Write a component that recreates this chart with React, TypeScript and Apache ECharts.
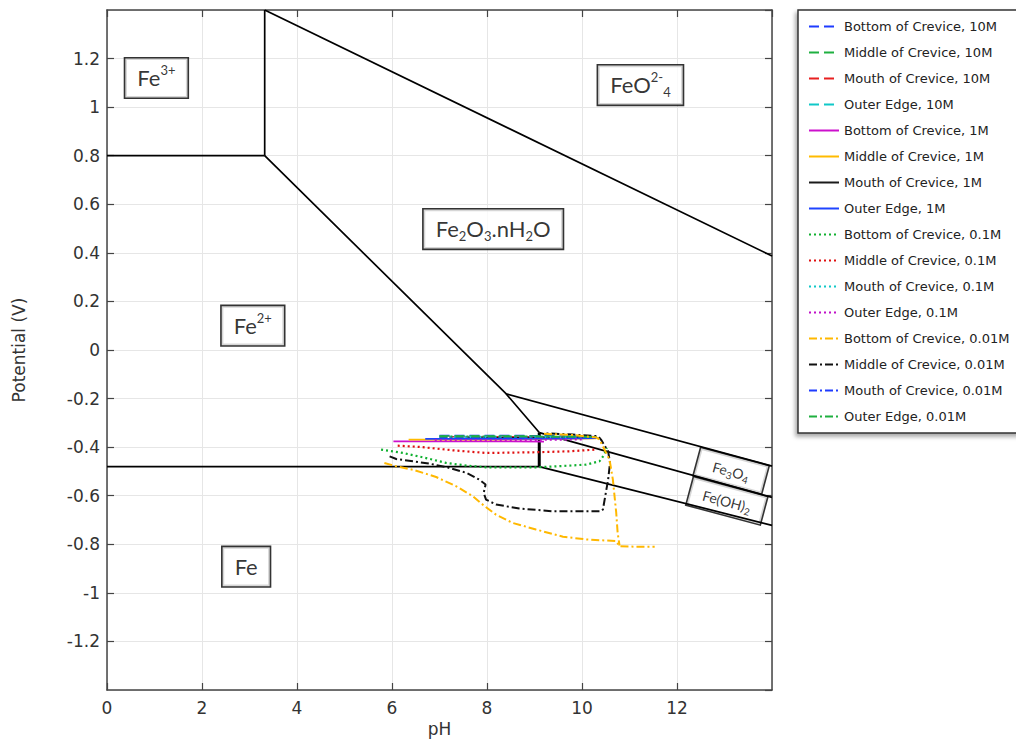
import React, { useEffect, useRef } from "react";
import * as echarts from "echarts";

// ---------- axes ----------
const PH_MIN = 0;
const PH_MAX = 14;
const PH_STEP = 2;
const E_MIN = -1.4;
const E_MAX = 1.4;
const E_STEP = 0.2;
const X_NAME = "pH";
const Y_NAME = "Potential (V)";

// ---------- Pourbaix boundaries [pH, E] ----------
const fe3Fe2Line = [[0, 0.8], [3.32, 0.8]];
const fe3OxideLine = [[3.32, 0.8], [3.32, 1.4]];
const ferrateLine = [[3.32, 1.4], [14, 0.387]];
const fe2OxideLine = [[3.32, 0.8], [8.4, -0.18], [9.1, -0.34]];
const oxideMagnetiteLine = [[8.4, -0.18], [14, -0.478]];
const fe2FeLine = [[0, -0.48], [9.1, -0.48]];
const fe2MagnetiteLine = [[9.1, -0.34], [9.1, -0.48]];
const magnetiteHydroxideLine = [[9.1, -0.34], [14, -0.607]];
const hydroxideFeLine = [[9.1, -0.48], [14, -0.722]];

// ---------- region labels ----------
const regionTexts = [
  "{m|Fe}{sup|3+}",
  "{m|FeO}{sup|2-}{sub|4}",
  "{m|Fe}{sub|2}{m|O}{sub|3}{m|.nH}{sub|2}{m|O}",
  "{m|Fe}{sup|2+}",
  "{m|Fe}",
  "{s|Fe}{ss|3}{s|O}{ss|4}",
  "{s|Fe(OH)}{ss|2}",
];
const regionPH = [1.04, 11.23, 8.13, 3.07, 2.93, 13.14, 13.05];
const regionE = [1.12, 1.091, 0.498, 0.1, -0.892, -0.497, -0.621];
const regionSmall = [false, false, false, false, false, true, true];

// ---------- measured curves [pH, E] ----------
const seriesNames = [
  "Bottom of Crevice, 10M",
  "Middle of Crevice, 10M",
  "Mouth of Crevice, 10M",
  "Outer Edge, 10M",
  "Bottom of Crevice, 1M",
  "Middle of Crevice, 1M",
  "Mouth of Crevice, 1M",
  "Outer Edge, 1M",
  "Bottom of Crevice, 0.1M",
  "Middle of Crevice, 0.1M",
  "Mouth of Crevice, 0.1M",
  "Outer Edge, 0.1M",
  "Bottom of Crevice, 0.01M",
  "Middle of Crevice, 0.01M",
  "Mouth of Crevice, 0.01M",
  "Outer Edge, 0.01M",
];

const bottom10M = [[7.0, -0.352], [8.5, -0.352], [9.5, -0.354], [10.3, -0.357]];
const middle10M = [[7.0, -0.354], [8.5, -0.354], [9.5, -0.356], [10.3, -0.358]];
const mouth10M = [[7.2, -0.357], [8.5, -0.357], [9.5, -0.358], [10.25, -0.36]];
const outer10M = [[7.3, -0.359], [8.5, -0.359], [9.5, -0.36], [10.2, -0.362]];

const bottom1M = [[6.03, -0.376], [7.5, -0.376], [8.5, -0.376], [9.2, -0.377]];
const middle1M = [[6.35, -0.369], [8.0, -0.369], [9.5, -0.366], [10.3, -0.364]];
const mouth1M = [[7.6, -0.362], [8.5, -0.362], [9.5, -0.361], [10.3, -0.36]];
const outer1M = [[6.7, -0.366], [8.0, -0.366], [9.5, -0.365], [10.3, -0.363]];

const bottom01M = [
  [5.77, -0.41], [6.23, -0.424], [6.72, -0.445], [7.14, -0.465], [7.57, -0.476],
  [7.98, -0.483], [9.04, -0.483], [9.46, -0.479], [10.09, -0.472], [10.37, -0.458],
  [10.47, -0.431], [10.52, -0.403],
];
const middle01M = [
  [6.12, -0.394], [6.58, -0.399], [7.28, -0.413], [7.98, -0.424], [9.04, -0.421],
  [9.74, -0.417], [10.3, -0.41],
];
const mouth01M = [[7.0, -0.358], [8.5, -0.358], [10.2, -0.36]];
const outer01M = [[6.9, -0.371], [8.5, -0.371], [10.0, -0.368]];

const bottom001M = [
  [5.84, -0.465], [6.09, -0.479], [6.44, -0.493], [6.93, -0.523], [7.35, -0.561],
  [7.7, -0.602], [7.95, -0.643], [8.19, -0.678], [8.54, -0.712], [9.03, -0.739],
  [9.6, -0.769], [10.09, -0.78], [10.72, -0.787], [10.79, -0.808], [11.14, -0.81],
  [11.53, -0.81],
];
const bottom001MUpper = [
  [9.2, -0.345], [9.8, -0.35], [10.3, -0.36], [10.37, -0.369], [10.58, -0.452],
  [10.65, -0.534], [10.72, -0.669], [10.75, -0.752], [10.79, -0.805],
];
const middle001M = [
  [5.95, -0.438], [6.09, -0.449], [6.44, -0.458], [6.79, -0.468], [7.14, -0.482],
  [7.57, -0.506], [7.84, -0.534], [7.97, -0.554], [7.93, -0.589], [7.98, -0.616],
  [8.19, -0.636], [8.68, -0.653], [9.39, -0.664], [10.4, -0.664], [10.44, -0.657],
  [10.55, -0.534], [10.59, -0.465], [10.55, -0.417], [10.4, -0.369], [10.34, -0.355],
  [9.8, -0.348], [9.2, -0.343],
];
const mouth001M = [[7.0, -0.36], [8.5, -0.36], [10.3, -0.362]];
const outer001M = [[7.0, -0.356], [8.5, -0.356], [10.3, -0.358]];

const seriesData = [
  bottom10M, middle10M, mouth10M, outer10M,
  bottom1M, middle1M, mouth1M, outer1M,
  bottom01M, middle01M, mouth01M, outer01M,
  bottom001M, middle001M, mouth001M, outer001M,
];

const COLORS = [
  "#1f3cff", "#1fb040", "#e82020", "#10c8c8",
  "#cc10cc", "#ffbb00", "#1a1a1a", "#1f44ff",
  "#10b030", "#e01010", "#10c8c8", "#c010c8",
  "#ffb800", "#111111", "#1f3cff", "#1fb040",
];

const DASH_10M: number[] = [10, 5];
const DOT: number[] = [2, 3];
const DASH_DOT: number[] = [8, 3, 2, 3];

function styleFor(i: number) {
  const group = Math.floor(i / 4);
  if (group === 0) return { type: DASH_10M as any, width: 1.6 };
  if (group === 1) return { type: "solid" as any, width: 1.8 };
  if (group === 2) return { type: DOT as any, width: 2.2 };
  return { type: DASH_DOT as any, width: 2 };
}

const FONT = "DejaVu Sans";
const LABEL_FONT = "Lato";

export default function App() {
  const ref = useRef<HTMLDivElement>(null);

  useEffect(() => {
    if (!ref.current) return;
    const chart = echarts.init(ref.current, undefined, { renderer: "svg" });

    const axisLineStyle = { color: "#444", width: 1.5 };

    const boundaries = [
      { d: fe3Fe2Line, w: 1.7 },
      { d: fe3OxideLine, w: 1.7 },
      { d: ferrateLine, w: 1.7 },
      { d: fe2OxideLine, w: 1.7 },
      { d: oxideMagnetiteLine, w: 1.7 },
      { d: fe2FeLine, w: 1.7 },
      { d: fe2MagnetiteLine, w: 3 },
      { d: magnetiteHydroxideLine, w: 1.7 },
      { d: hydroxideFeLine, w: 1.7 },
    ];

    const boundarySeries = boundaries.map((b) => ({
      type: "line",
      data: b.d,
      symbol: "none",
      silent: true,
      z: 4,
      lineStyle: { color: "#000", width: b.w },
    }));

    const bigRich = {
      m: { fontSize: 22, fontFamily: LABEL_FONT, color: "#000", lineHeight: 28 },
      sup: { fontSize: 13, fontFamily: LABEL_FONT, color: "#000", lineHeight: 14, verticalAlign: "top" },
      sub: { fontSize: 13, fontFamily: LABEL_FONT, color: "#000", lineHeight: 13, verticalAlign: "bottom" },
    };
    const smallRich = {
      s: { fontSize: 14, fontFamily: LABEL_FONT, color: "#000", lineHeight: 19 },
      ss: { fontSize: 10, fontFamily: LABEL_FONT, color: "#000", lineHeight: 10, verticalAlign: "bottom" },
    };

    const labelData = regionTexts.map((t, i) => {
      const small = regionSmall[i];
      return {
        value: [regionPH[i], regionE[i]],
        label: {
          show: true,
          position: "inside",
          formatter: t,
          rich: small ? smallRich : bigRich,
          backgroundColor: "#fff",
          borderColor: "#000",
          borderWidth: 1.6,
          padding: small ? [5, i === 5 ? 16 : 13, 4, i === 5 ? 16 : 13] : [5, 12, 6, 12],
          rotate: small ? -15 : 0,
        },
      };
    });

    const dataSeries: any[] = seriesData.map((d, i) => ({
      name: seriesNames[i],
      type: "line",
      data: d,
      symbol: "none",
      showSymbol: false,
      z: 5,
      color: COLORS[i],
      lineStyle: { color: COLORS[i], ...styleFor(i) },
    }));
    dataSeries.push({
      name: seriesNames[12],
      type: "line",
      data: bottom001MUpper,
      symbol: "none",
      showSymbol: false,
      z: 5,
      color: COLORS[12],
      lineStyle: { color: COLORS[12], ...styleFor(12) },
    });

    const option: any = {
      animation: false,
      backgroundColor: "#fff",
      grid: { left: 107, top: 10, width: 665, height: 680, containLabel: false },
      legend: {
        data: seriesNames,
        orient: "vertical",
        left: 798,
        top: 10,
        padding: [10, 12, 10, 10],
        itemWidth: 30,
        itemHeight: 14,
        itemGap: 13,
        backgroundColor: "#fff",
        borderColor: "#333",
        borderWidth: 1.5,
        shadowColor: "rgba(0,0,0,0.35)",
        shadowBlur: 4,
        shadowOffsetX: -2,
        shadowOffsetY: 3,
        selectedMode: false,
        itemStyle: { opacity: 0, color: "rgba(0,0,0,0)", borderWidth: 0 },
        textStyle: { fontFamily: FONT, fontSize: 13, color: "#222" },
      },
      xAxis: [
        {
          type: "value",
          min: PH_MIN,
          max: PH_MAX,
          interval: PH_STEP,
          position: "bottom",
          name: X_NAME,
          nameLocation: "middle",
          nameGap: 30,
          nameTextStyle: { fontFamily: FONT, fontSize: 17, color: "#333" },
          axisLine: { show: true, onZero: false, lineStyle: axisLineStyle },
          axisTick: { show: true, inside: true, length: 7, lineStyle: { color: "#444", width: 1.2 } },
          axisLabel: { fontFamily: FONT, fontSize: 17, color: "#333", margin: 9, showMaxLabel: false },
          splitLine: { show: true, lineStyle: { color: "#e6e6e6", width: 1 } },
        },
        {
          type: "value",
          min: PH_MIN,
          max: PH_MAX,
          interval: PH_STEP,
          position: "top",
          axisLine: { show: true, onZero: false, lineStyle: axisLineStyle },
          axisTick: { show: true, inside: true, length: 7, lineStyle: { color: "#444", width: 1.2 } },
          axisLabel: { show: false },
          splitLine: { show: false },
        },
      ],
      yAxis: [
        {
          type: "value",
          min: E_MIN,
          max: E_MAX,
          interval: E_STEP,
          position: "left",
          name: Y_NAME,
          nameLocation: "middle",
          nameGap: 80,
          nameTextStyle: { fontFamily: FONT, fontSize: 17, color: "#333" },
          axisLine: { show: true, onZero: false, lineStyle: axisLineStyle },
          axisTick: { show: true, inside: true, length: 7, lineStyle: { color: "#444", width: 1.2 } },
          axisLabel: {
            fontFamily: FONT,
            fontSize: 17,
            color: "#333",
            margin: 7,
            showMinLabel: false,
            showMaxLabel: false,
            formatter: (v: number) => String(Math.round(v * 10) / 10),
          },
          splitLine: { show: true, lineStyle: { color: "#e6e6e6", width: 1 } },
        },
        {
          type: "value",
          min: E_MIN,
          max: E_MAX,
          interval: E_STEP,
          position: "right",
          axisLine: { show: true, onZero: false, lineStyle: axisLineStyle },
          axisTick: { show: true, inside: true, length: 7, lineStyle: { color: "#444", width: 1.2 } },
          axisLabel: { show: false },
          splitLine: { show: false },
        },
      ],
      series: [
        {
          type: "scatter",
          data: labelData,
          symbolSize: 1,
          silent: true,
          z: 3,
          itemStyle: { color: "rgba(0,0,0,0)" },
        },
        ...boundarySeries,
        ...dataSeries,
      ],
    };

    chart.setOption(option);
    return () => chart.dispose();
  }, []);

  return (
    <div
      ref={ref}
      style={{ position: "absolute", left: 0, top: 0, width: 1016, height: 743 }}
    />
  );
}
